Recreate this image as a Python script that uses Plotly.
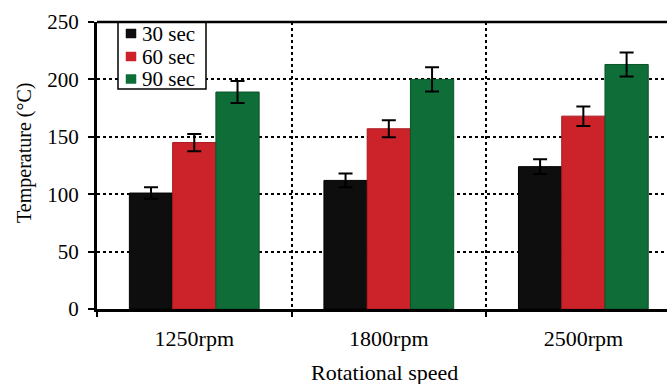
import plotly.graph_objects as go

categories = ["1250rpm", "1800rpm", "2500rpm"]
series_names = ["30 sec", "60 sec", "90 sec"]
temp_30 = [101, 112, 124]
temp_60 = [145, 157, 168]
temp_90 = [189, 200, 213]
err_30 = [5, 6, 6.5]
err_60 = [7.5, 7.5, 8.5]
err_90 = [9.5, 10.5, 10.5]
y_ticks = [0, 50, 100, 150, 200, 250]

colors = ["#0e0e0e", "#cc232b", "#0f6e38"]
edge = ["#000000", "#a81a20", "#0a5329"]
FONT = "Liberation Serif, Times New Roman, serif"

W, H = 667, 384
ML, MR, MT, MB = 97, 0, 22, 75
PW, PH = W - ML - MR, H - MT - MB

def px_x(p):
    return (p - ML) / PW

def px_y(p):
    return (H - MB - p) / PH

fig = go.Figure()
for name, vals, errs, c, ec in zip(series_names, [temp_30, temp_60, temp_90],
                                   [err_30, err_60, err_90], colors, edge):
    fig.add_trace(go.Bar(
        x=categories, y=vals, name=name,
        marker=dict(color=c, line=dict(color=ec, width=1)),
        error_y=dict(type="data", array=errs, visible=True,
                     color="black", thickness=2, width=7),
        showlegend=False,
    ))

# manual legend
shapes = [
    dict(type="rect", xref="paper", yref="paper",
         x0=px_x(118), x1=px_x(206), y0=px_y(89), y1=px_y(22),
         line=dict(color="black", width=1.5), fillcolor="white", layer="above"),
    dict(type="line", xref="paper", yref="paper", x0=0, x1=1, y0=1, y1=1,
         line=dict(color="black", width=2.5), layer="above"),
]
annotations = []
row_y = [33.5, 56.5, 79]
for name, c, ry in zip(series_names, colors, row_y):
    shapes.append(dict(type="rect", xref="paper", yref="paper",
                       x0=px_x(126), x1=px_x(136), y0=px_y(ry + 4.5), y1=px_y(ry - 4.5),
                       line=dict(color=c, width=0.5), fillcolor=c, layer="above"))
    annotations.append(dict(text=name, xref="paper", yref="paper",
                            x=px_x(140), y=px_y(ry), xanchor="left", yanchor="middle",
                            showarrow=False, font=dict(family=FONT, size=21, color="black")))

annotations.append(dict(text="Temperature (°C)", xref="paper", yref="paper",
                        x=px_x(24), y=px_y(153), textangle=-90,
                        xanchor="center", yanchor="middle", showarrow=False,
                        font=dict(family=FONT, size=20, color="black")))
annotations.append(dict(text="Rotational speed", xref="paper", yref="paper",
                        x=px_x(384), y=px_y(372),
                        xanchor="center", yanchor="middle", showarrow=False,
                        font=dict(family=FONT, size=22, color="black")))

fig.update_layout(
    width=W, height=H,
    margin=dict(l=ML, r=MR, t=MT, b=MB, pad=0),
    paper_bgcolor="white", plot_bgcolor="white",
    barmode="group", bargap=0.333, bargroupgap=0,
    font=dict(family=FONT, color="black"),
    shapes=shapes, annotations=annotations,
    xaxis=dict(
        type="category", range=[-0.5, 2.43],
        tickson="boundaries", ticks="outside", ticklen=5, tickwidth=1.5, tickcolor="black",
        showgrid=True, gridcolor="black", griddash="dot", gridwidth=1.5,
        showline=True, linecolor="black", linewidth=3,
        tickfont=dict(family=FONT, size=22, color="black"),
        ticklabelstandoff=8,
    ),
    yaxis=dict(
        range=[0, 250], tickvals=y_ticks,
        ticks="outside", ticklen=6, tickwidth=1.5, tickcolor="black",
        showgrid=True, gridcolor="black", griddash="dot", gridwidth=1.5,
        showline=True, linecolor="black", linewidth=3,
        zeroline=False,
        tickfont=dict(family=FONT, size=21, color="black"),
        ticklabelstandoff=5,
    ),
)

fig.write_html("out.html")
